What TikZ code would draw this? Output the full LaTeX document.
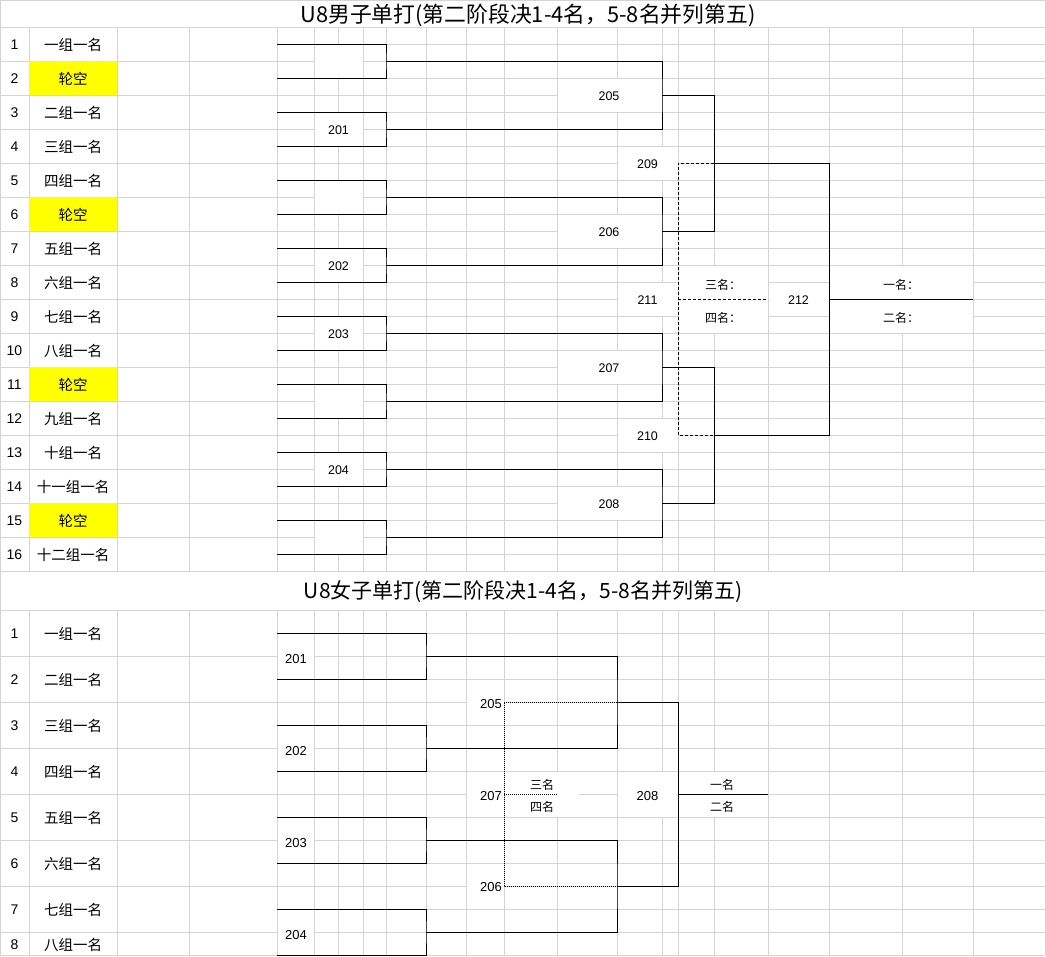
\documentclass[tikz,border=0pt]{standalone}
\usepackage{fontspec}
\setmainfont{Liberation Sans}
\newfontfamily\cjk{Noto Sans CJK SC}
\definecolor{gridc}{HTML}{D4D4D4}
\definecolor{bye}{HTML}{FFFF00}
\begin{document}
\begin{tikzpicture}[x=1pt,y=-1pt,
 grid/.style={draw=gridc,line width=1pt},
 br/.style={draw=black,line width=1pt},
 dsh/.style={draw=black,line width=0.9pt,dash pattern=on 3pt off 2pt},
 dotl/.style={draw=black,line width=0.9pt,dash pattern=on 1pt off 1pt},
 rownum/.style={font=\fontsize{14}{16}\selectfont,inner sep=0,yshift=-1pt},
 pname/.style={font=\cjk\fontsize{14.5}{16}\selectfont,inner sep=0,yshift=-1pt},
 mnum/.style={font=\fontsize{12.5}{14}\selectfont,inner sep=0,yshift=-1pt},
 bnum/.style={font=\fontsize{13}{15}\selectfont,inner sep=0,yshift=-1pt},
 lab/.style={font=\cjk\fontsize{12}{14}\selectfont,inner sep=0,yshift=-1pt},
 ttl/.style={font=\cjk\fontsize{21.8}{24}\selectfont,inner sep=0,yshift=-1pt}
]
\useasboundingbox (0,0) rectangle (1046,956);
\fill[white] (0,0) rectangle (1046,956);

% ---------------- grid, top section ----------------
\draw[grid] (0,0.5) -- (1045,0.5);
\draw[grid] (0,27) -- (1045,27);
\draw[grid] (0.5,0) -- (0.5,571);
\draw[grid] (1045,0) -- (1045,955);
\foreach \x in {29,117,189,277} \draw[grid] (\x,27) -- (\x,571);
\foreach \k in {0,...,16} \draw[grid] (0,{27+34*\k}) -- (277,{27+34*\k});
\foreach \x in {314,338,363,386,426,466,504,557,617,662,678,714,768,829,902,973}
  \draw[grid] (\x,27) -- (\x,571);
\foreach \k in {0,...,32} \draw[grid] (277,{27+17*\k}) -- (1045,{27+17*\k});

% ---------------- grid, bottom section ----------------
\draw[grid] (0,571) -- (1045,571);
\draw[grid] (0,610) -- (1045,610);
\draw[grid] (0.5,571) -- (0.5,955);
\foreach \x in {29,117,189,277} \draw[grid] (\x,610) -- (\x,955);
\foreach \k in {0,...,7} \draw[grid] (0,{610+46*\k}) -- (277,{610+46*\k});
\draw[grid] (0,955) -- (277,955);
\foreach \x in {314,338,363,386,426,466,504,557,617,662,678,714,768,829,902,973}
  \draw[grid] (\x,610) -- (\x,955);
\foreach \k in {0,...,15} \draw[grid] (277,{610+23*\k}) -- (1045,{610+23*\k});

% ---------------- merged cells (white) ----------------
\foreach \k in {1,...,8}
  \fill[white] (314.5,{68*\k-24+0.5}) rectangle (362.5,{68*\k+10-0.5});
\foreach \y in {78,214,350,486}
  \fill[white] (557.5,{\y+0.5}) rectangle (661.5,{\y+34-0.5});
\foreach \y in {146,282,418}
  \fill[white] (617.5,{\y+0.5}) rectangle (677.5,{\y+34-0.5});
\fill[white] (678.5,265.5) rectangle (767.5,332.5);
\fill[white] (768.5,282.5) rectangle (828.5,315.5);
\fill[white] (829.5,265.5) rectangle (972.5,332.5);
\foreach \y in {633,725,817,909}
  \fill[white] (277.5,{\y+0.5}) rectangle (313.5,{\y+46-0.5});
\foreach \y in {679,771,863}
  \fill[white] (466.5,{\y+0.5}) rectangle (503.5,{\y+46-0.5});
\fill[white] (504.5,771.5) rectangle (578.5,816.5);
\fill[white] (617.5,771.5) rectangle (677.5,816.5);
\fill[white] (678.5,771.5) rectangle (767.5,816.5);

% bye cells
\foreach \i in {2,6,11,15}
  \fill[bye] (29,{27+34*(\i-1)}) rectangle (117,{27+34*\i});

% ---------------- titles ----------------
\node[ttl] (title1) at (528,14) {U8男子单打(第二阶段决1-4名，5-8名并列第五)};
\node[ttl,font=\cjk\fontsize{21}{24}\selectfont] (title2) at (523,591) {U8女子单打(第二阶段决1-4名，5-8名并列第五)};

% ---------------- left columns, top ----------------
\foreach \t [count=\i] in {一组一名,轮空,二组一名,三组一名,四组一名,轮空,五组一名,六组一名,七组一名,八组一名,轮空,九组一名,十组一名,十一组一名,轮空,十二组一名}{
  \node[rownum] (tn\i) at (14.5,{10+34*\i}) {\i};
  \node[pname] (tp\i) at (73,{10+34*\i}) {\t};
}
% ---------------- left columns, bottom ----------------
\foreach \t [count=\i] in {一组一名,二组一名,三组一名,四组一名,五组一名,六组一名,七组一名}{
  \node[rownum] (bn\i) at (14.5,{587+46*\i}) {\i};
  \node[pname] (bp\i) at (73,{587+46*\i}) {\t};
}
\node[rownum] (bn8) at (14.5,943.5) {8};
\node[pname] (bp8) at (73,943.5) {八组一名};

% ---------------- top bracket ----------------
\foreach \i in {1,...,16} \coordinate (p\i) at (277,{10+34*\i});
\foreach \k in {1,...,8}{
  \pgfmathtruncatemacro\a{2*\k-1}
  \pgfmathtruncatemacro\b{2*\k}
  \coordinate (m\k) at (386,{68*\k-7});
  \draw[br] (p\a) -| (m\k) |- (p\b);
}
\coordinate (q1) at (662,95);
\coordinate (q2) at (662,231);
\coordinate (q3) at (662,367);
\coordinate (q4) at (662,503);
\draw[br] (m1) -| (q1) |- (m2);
\draw[br] (m3) -| (q2) |- (m4);
\draw[br] (m5) -| (q3) |- (m6);
\draw[br] (m7) -| (q4) |- (m8);
\coordinate (s1) at (714,163);
\coordinate (s2) at (714,435);
\draw[br] (q1) -| (s1) |- (q2);
\draw[br] (q3) -| (s2) |- (q4);
\coordinate (f) at (829,299);
\coordinate (w) at (973,299);
\draw[br] (s1) -| (f) |- (s2);
\draw[br] (f) -- (w);
\coordinate (d1) at (678,163);
\coordinate (d2) at (678,435);
\coordinate (d0) at (678,299);
\coordinate (d3) at (768,299);
\draw[dsh] (s1) -- (d1) -- (d2) -- (s2);
\draw[dsh] (d0) -- (d3);

% labels top
\node[mnum] (t201) at (338.5,129) {201};
\node[mnum] (t202) at (338.5,265) {202};
\node[mnum] (t203) at (338.5,333) {203};
\node[mnum] (t204) at (338.5,469) {204};
\node[mnum] (t205) at (609,95) {205};
\node[mnum] (t206) at (609,231) {206};
\node[mnum] (t207) at (609,367) {207};
\node[mnum] (t208) at (609,503) {208};
\node[mnum] (t209) at (647.5,163) {209};
\node[mnum] (t211) at (647.5,299) {211};
\node[mnum] (t210) at (647.5,435) {210};
\node[mnum] (t212) at (798.5,299) {212};
\node[lab] (t3rd) at (723,284) {三名：};
\node[lab] (t4th) at (723,317) {四名：};
\node[lab] (t1st) at (901,284) {一名：};
\node[lab] (t2nd) at (901,317) {二名：};

% ---------------- bottom bracket ----------------
\foreach \i in {1,...,8} \coordinate (b\i) at (277,{587+46*\i});
\foreach \k in {1,...,4}{
  \pgfmathtruncatemacro\a{2*\k-1}
  \pgfmathtruncatemacro\b{2*\k}
  \coordinate (bm\k) at (426,{564+92*\k});
  \draw[br] (b\a) -| (bm\k) |- (b\b);
}
\coordinate (bq1) at (617,702);
\coordinate (bq2) at (617,886);
\draw[br] (bm1) -| (bq1) |- (bm2);
\draw[br] (bm3) -| (bq2) |- (bm4);
\coordinate (bf) at (678,794);
\coordinate (bw) at (768,794);
\draw[br] (bq1) -| (bf) |- (bq2);
\draw[br] (bf) -- (bw);
\coordinate (bd1) at (504,702);
\coordinate (bd2) at (504,886);
\coordinate (bd0) at (504,794);
\coordinate (bd3) at (557,794);
\draw[dotl] (bq1) -- (bd1) -- (bd2) -- (bq2);
\draw[dotl] (bd0) -- (bd3);

% labels bottom
\node[bnum] (u201) at (296,658) {201};
\node[bnum] (u202) at (296,750) {202};
\node[bnum] (u203) at (296,842) {203};
\node[bnum] (u204) at (296,934) {204};
\node[bnum] (u205) at (491,703) {205};
\node[bnum] (u207) at (491,795) {207};
\node[bnum] (u206) at (491,886) {206};
\node[bnum] (u208) at (647.5,795) {208};
\node[lab] (u3rd) at (542,784) {三名};
\node[lab] (u4th) at (542,806) {四名};
\node[lab] (u1st) at (722,784) {一名};
\node[lab] (u2nd) at (722,806) {二名};
\end{tikzpicture}
\end{document}
